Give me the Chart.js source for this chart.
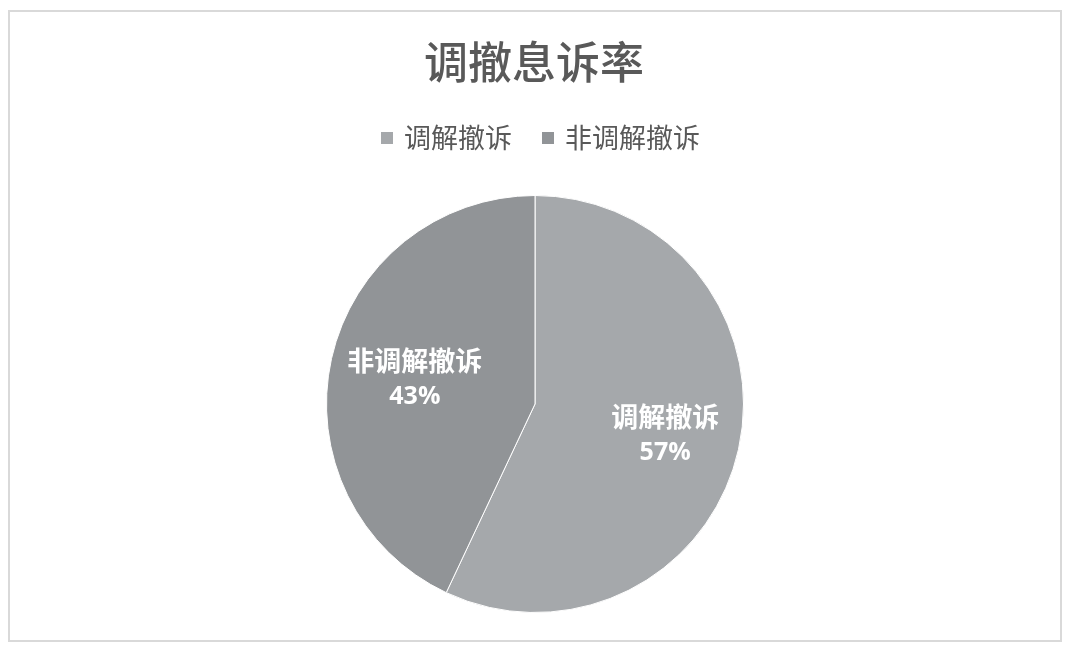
<!DOCTYPE html>
<html><head><meta charset="utf-8">
<script src="https://cdn.jsdelivr.net/npm/chart.js@4.4.0/dist/chart.umd.min.js"></script>
<style>html,body{margin:0;padding:0;background:#fff;}#wrap{width:1074px;height:652px;position:relative;}</style>
</head><body><div id="wrap"><canvas id="c" width="1074" height="652"></canvas></div>
<script>
const titleText = "调撤息诉率";
const categories = ["调解撤诉", "非调解撤诉"];
const values = [57, 43];
const percentLabels = ["57%", "43%"];
const colors = ["#a5a8ab", "#919497"];

const framePlugin = {
  id: 'frame',
  beforeDraw(chart) {
    const ctx = chart.ctx;
    ctx.save();
    ctx.fillStyle = '#fff';
    ctx.fillRect(0, 0, chart.width, chart.height);
    ctx.strokeStyle = '#d9d9d9';
    ctx.lineWidth = 2;
    ctx.strokeRect(9, 11, 1052, 630);
    // title
    ctx.fillStyle = '#595959';
    ctx.font = '500 44px "Noto Sans CJK SC"';
    ctx.textAlign = 'center';
    ctx.textBaseline = 'middle';
    ctx.fillText(titleText, 534, 62);
    // legend
    ctx.font = '27px "Noto Sans CJK SC"';
    ctx.textAlign = 'left';
    let x = 381;
    const gap = 30;
    categories.forEach((c, i) => {
      ctx.fillStyle = colors[i];
      ctx.fillRect(x, 132, 12, 12);
      ctx.fillStyle = '#595959';
      ctx.fillText(c, x + 23, 138);
      x += 23 + ctx.measureText(c).width + gap;
    });
    ctx.restore();
  },
  afterDatasetsDraw(chart) {
    const ctx = chart.ctx;
    const meta = chart.getDatasetMeta(0);
    ctx.save();
    ctx.fillStyle = '#ffffff';
    ctx.textAlign = 'center';
    ctx.textBaseline = 'middle';
    meta.data.forEach((arc, i) => {
      const p = arc.getProps(['x','y','startAngle','endAngle','outerRadius'], true);
      const mid = (p.startAngle + p.endAngle) / 2;
      const r = p.outerRadius * 0.615;
      const cx = p.x + Math.cos(mid) * r + 5;
      const cy = p.y + Math.sin(mid) * r + 3;
      ctx.font = 'bold 27px "Noto Sans CJK SC"';
      ctx.fillText(categories[i], cx, cy - 18);
      ctx.font = 'bold 25px "Open Sans"';
      ctx.fillText(percentLabels[i], cx, cy + 18);
    });
    ctx.restore();
  }
};

new Chart(document.getElementById('c'), {
  type: 'pie',
  data: {
    labels: categories,
    datasets: [{
      data: values,
      backgroundColor: colors,
      borderColor: '#ffffff',
      borderWidth: 1
    }]
  },
  options: {
    responsive: false,
    animation: false,
    devicePixelRatio: 1,
    layout: { padding: { top: 195, bottom: 39, left: 324, right: 328 } },
    plugins: { legend: { display: false }, title: { display: false }, tooltip: { enabled: false } }
  },
  plugins: [framePlugin]
});
</script></body></html>
